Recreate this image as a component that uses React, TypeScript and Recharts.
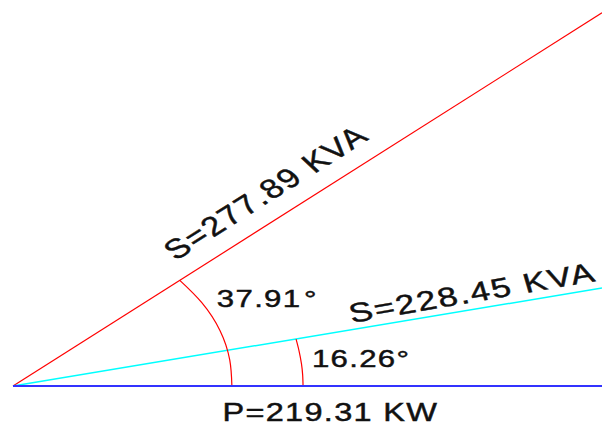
import React from 'react';
import { LineChart, Line, XAxis, YAxis, ReferenceDot } from 'recharts';

// Power triangle values (labels)
const realPowerKW = 219.31;
const apparentPowerKVA = [277.89, 228.45];
const angleDeg = ['37.91', '16.26'];

// Drawn geometry (data units of the plot)
const realPowerLine = [
  { x: 0, y: 0 },
  { x: 219.31, y: 0 },
];
const apparentLine1 = [
  { x: 0, y: 0 },
  { x: 219.31, y: 188.9 },
];
const apparentLine2 = [
  { x: 0, y: 0 },
  { x: 219.31, y: 49.6 },
];
const angleArc1 = [
  { x: 62.1, y: 53.5 },
  { x: 70.3, y: 42.2 },
  { x: 77.1, y: 28.0 },
  { x: 80.7, y: 13.2 },
  { x: 81.5, y: 0 },
];
const angleArc2 = [
  { x: 105.4, y: 23.7 },
  { x: 106.5, y: 17.8 },
  { x: 107.4, y: 11.3 },
  { x: 107.85, y: 5.65 },
  { x: 108, y: 0 },
];

// Label anchor positions (data units) and rotations
const labelPos = {
  s1: { x: 60.7, y: 63.3, rot: 39.3 },
  s2: { x: 126.2, y: 31.9, rot: 12.6 },
  a1: { x: 75.9, y: 40.0 },
  a2: { x: 111.3, y: 9.6 },
  p: { x: 78.0, y: -17.7 },
};

const X_MAX = 219.31;
const Y_MAX = 195.4;
const STRETCH = 1.3;
const FONT = '"Liberation Sans", Arial, Helvetica, sans-serif';

function makeText(content: React.ReactNode, size: number, rot: number, ls: number) {
  return (props: any) => {
    const { cx, cy } = props;
    return (
      <text
        transform={`translate(${cx},${cy}) scale(${STRETCH},1) rotate(${-rot})`}
        x={0}
        y={0}
        fontFamily={FONT}
        fontSize={size}
        letterSpacing={ls}
        fill="#111"
        stroke="#111"
        strokeWidth={0.45}
      >
        {content}
      </text>
    );
  };
}

export default function App() {
  return (
    <div style={{ position: 'absolute', left: 0, top: 0, width: 602, height: 428, background: '#fff' }}>
      <LineChart width={602} height={428} margin={{ top: 0, right: 0, bottom: 42, left: 13 }}>
        <XAxis type="number" dataKey="x" domain={[0, X_MAX]} hide />
        <YAxis type="number" dataKey="y" domain={[0, Y_MAX]} hide />
        <Line data={apparentLine1} dataKey="y" type="linear" stroke="#ff0000" strokeWidth={1.2} dot={false} activeDot={false} isAnimationActive={false} />
        <Line data={apparentLine2} dataKey="y" type="linear" stroke="#00ffff" strokeWidth={1.5} dot={false} activeDot={false} isAnimationActive={false} />
        <Line data={angleArc1} dataKey="y" type="natural" stroke="#ff0000" strokeWidth={1.2} dot={false} activeDot={false} isAnimationActive={false} />
        <Line data={angleArc2} dataKey="y" type="natural" stroke="#ff0000" strokeWidth={1.2} dot={false} activeDot={false} isAnimationActive={false} />
        <Line data={realPowerLine} dataKey="y" type="linear" stroke="#3333ff" strokeWidth={2.2} dot={false} activeDot={false} isAnimationActive={false} />
        <ReferenceDot x={labelPos.s1.x} y={labelPos.s1.y} r={0} ifOverflow="visible"
          shape={makeText(`S=${apparentPowerKVA[0]} KVA`, 27, labelPos.s1.rot, 1.5)} />
        <ReferenceDot x={labelPos.s2.x} y={labelPos.s2.y} r={0} ifOverflow="visible"
          shape={makeText(`S=${apparentPowerKVA[1]} KVA`, 27, labelPos.s2.rot, 1.5)} />
        <ReferenceDot x={labelPos.a1.x} y={labelPos.a1.y} r={0} ifOverflow="visible"
          shape={makeText(<>{angleDeg[0]}<tspan dx={2}>°</tspan></>, 24, 0, 1)} />
        <ReferenceDot x={labelPos.a2.x} y={labelPos.a2.y} r={0} ifOverflow="visible"
          shape={makeText(<>{angleDeg[1]}<tspan>°</tspan></>, 24, 0, 1)} />
        <ReferenceDot x={labelPos.p.x} y={labelPos.p.y} r={0} ifOverflow="visible"
          shape={makeText(`P=${realPowerKW} KW`, 25, 0, 1)} />
      </LineChart>
    </div>
  );
}
